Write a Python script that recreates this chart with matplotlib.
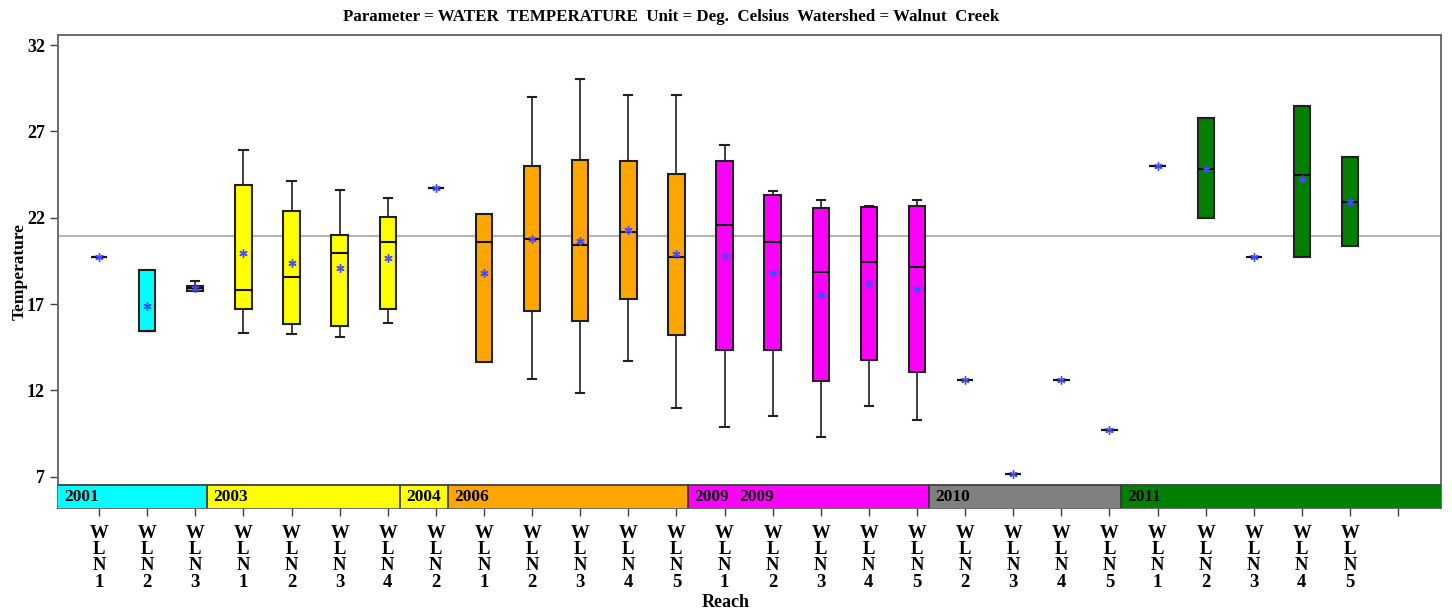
import numpy as np
import matplotlib.pyplot as plt

# reach labels along the x axis
reaches = ['WLN1', 'WLN2', 'WLN3',
           'WLN1', 'WLN2', 'WLN3', 'WLN4',
           'WLN2',
           'WLN1', 'WLN2', 'WLN3', 'WLN4', 'WLN5',
           'WLN1', 'WLN2', 'WLN3', 'WLN4', 'WLN5',
           'WLN2', 'WLN3', 'WLN4', 'WLN5',
           'WLN1', 'WLN2', 'WLN3', 'WLN4', 'WLN5']

# year blocks (label, number of reaches)
blocks = [('2001', 3), ('2003', 4), ('2004', 1), ('2006', 5),
          ('2009', 1), ('2009', 4), ('2010', 4), ('2011', 5)]
block_colors = {'2001': '#00ffff', '2003': '#ffff00', '2004': '#ffff00',
                '2006': '#ffa500', '2009': '#ff00ff', '2010': '#808080',
                '2011': '#008000'}

# box statistics
whislo = [19.74, 15.45, 17.75, 15.34, 15.26, 15.11, 15.88, 23.70, 13.62, 12.66,
          11.83, 13.70, 10.96, 9.86, 10.51, 9.28, 11.09, 10.27, 12.60, 7.16,
          12.62, 9.70, 24.99, 21.96, 19.74, 19.70, 20.34]
q1 = [19.74, 15.45, 17.75, 16.69, 15.82, 15.74, 16.69, 23.70, 13.62, 16.59,
      16.02, 17.29, 15.19, 14.32, 14.35, 12.52, 13.74, 13.05, 12.60, 7.16,
      12.62, 9.70, 24.99, 21.96, 19.74, 19.70, 20.34]
med = [19.74, 15.45, 17.92, 17.81, 18.56, 19.94, 20.61, 23.70, 20.57, 20.74,
       20.42, 21.15, 19.74, 21.56, 20.59, 18.83, 19.45, 19.14, 12.60, 7.16,
       12.62, 9.70, 24.99, 24.85, 19.74, 24.47, 22.91]
q3 = [19.74, 18.97, 18.06, 23.89, 22.40, 20.98, 22.04, 23.70, 22.23, 24.97,
      25.32, 25.30, 24.55, 25.26, 23.29, 22.54, 22.62, 22.69, 12.60, 7.16,
      12.62, 9.70, 24.99, 27.75, 19.74, 28.48, 25.49]
whishi = [19.74, 18.97, 18.33, 25.92, 24.12, 23.60, 23.12, 23.70, 22.23, 28.97,
          30.05, 29.12, 29.12, 26.21, 23.56, 23.02, 22.67, 23.02, 12.60, 7.16,
          12.62, 9.70, 24.99, 27.75, 19.74, 28.48, 25.49]
means = [19.74, 16.88, 17.94, 19.94, 19.39, 19.08, 19.66, 23.70, 18.81, 20.75,
         20.67, 21.28, 19.88, 19.80, 18.81, 17.52, 18.18, 17.85, 12.60, 7.16,
         12.62, 9.70, 24.99, 24.85, 19.74, 24.22, 22.91]
ref_value = 20.95
yticks = [7, 12, 17, 22, 27, 32]

plt.rcParams['font.family'] = 'Liberation Serif'
plt.rcParams['font.weight'] = 'bold'

fig = plt.figure(figsize=(14.52, 6.10), dpi=100)
ax = fig.add_axes([0.040, 0.1672, 0.9524, 0.7754])

ymin, band_top = 5.19, 6.52
ax.set_ylim(ymin, 32.58)
ax.set_xlim(0.148, 28.89)

ax.axhline(ref_value, color='#a8a8a8', lw=1.2, zorder=1)

# facecolor per reach
face = []
for lab, n in blocks:
    face += [block_colors[lab]] * n

stats = []
for i in range(len(reaches)):
    stats.append(dict(whislo=whislo[i], q1=q1[i], med=med[i], q3=q3[i],
                      whishi=whishi[i], mean=means[i], fliers=[]))
pos = np.arange(1, len(reaches) + 1)
bp = ax.bxp(stats, positions=pos, widths=0.34, capwidths=0.17,
            patch_artist=True, showmeans=True, manage_ticks=False,
            boxprops=dict(edgecolor='#202020', linewidth=1.5, zorder=3),
            whiskerprops=dict(color='#303030', linewidth=1.3, zorder=2),
            capprops=dict(color='#202020', linewidth=1.5, zorder=2),
            medianprops=dict(color='#101010', linewidth=1.5, zorder=4),
            meanprops=dict(marker=(6, 2, 0), markeredgecolor='#4848ff',
                           markerfacecolor='#4848ff', markersize=6,
                           markeredgewidth=1.0, zorder=5))
for patch, c in zip(bp['boxes'], face):
    patch.set_facecolor(c)

# year band along the bottom
edge = 0.25
x0 = 0.148
prev = None
k = 0
for j, (lab, n) in enumerate(blocks):
    k += n
    x1 = k + edge if j < len(blocks) - 1 else 28.89
    ax.bar(x0, band_top - ymin, width=x1 - x0, bottom=ymin, align='edge',
           color=block_colors[lab], edgecolor='none', zorder=6)
    if prev is not None and prev != lab:
        ax.plot([x0, x0], [ymin, band_top], color='#303030', lw=1.2, zorder=7)
    ax.text(x0 + (0.13 if prev != lab else 0.05), (ymin + band_top) / 2 - 0.05,
            lab, fontsize=12.5, fontweight='bold', va='center', ha='left',
            zorder=8)
    prev = lab
    x0 = x1
ax.axhline(band_top, color='#404040', lw=1.3, zorder=7)

ax.set_yticks(yticks)
ax.set_yticklabels([str(v) for v in yticks], fontsize=13, fontweight='bold')
ax.set_xticks(np.arange(1, 29))
ax.set_xticklabels(['\n'.join(r) for r in reaches] + [''], fontsize=13.5,
                   fontweight='bold', linespacing=0.95)
ax.tick_params(axis='both', direction='out', length=6, color='#404040',
               width=1.0)
ax.tick_params(axis='x', pad=6)
for s in ax.spines.values():
    s.set_color('#606060')
    s.set_linewidth(1.3)

ax.set_ylabel('Temperature', fontsize=12.5, fontweight='bold')
ax.yaxis.set_label_coords(-0.022, 0.5)
fig.text(0.5, 0.005, 'Reach', fontsize=13, fontweight='bold', ha='center')
fig.text(0.462, 0.972,
         'Parameter = WATER  TEMPERATURE  Unit = Deg.  Celsius  Watershed = Walnut  Creek',
         fontsize=12.2, fontweight='bold', ha='center', va='center')

fig.savefig('out.png', dpi=100)
